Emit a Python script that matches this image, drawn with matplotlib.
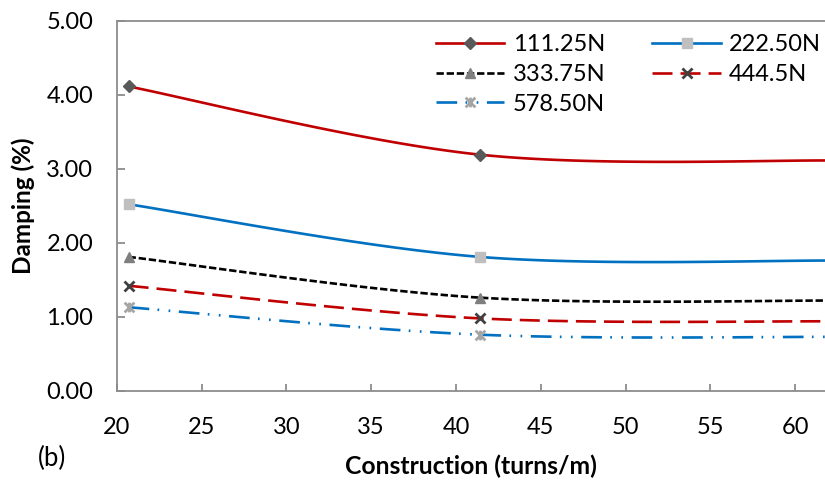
import numpy as np
import matplotlib
matplotlib.use('Agg')
import matplotlib.pyplot as plt
from matplotlib.path import Path
from matplotlib.lines import Line2D

plt.rcParams['font.family'] = ['Lato', 'DejaVu Sans']
plt.rcParams['lines.scale_dashes'] = False

# Data (third point sits just past the visible right edge)
construction = [20.7, 41.4, 62.4]
loads = ['111.25N', '222.50N', '333.75N', '444.5N', '578.50N']
damping_111 = [4.11, 3.19, 3.11]
damping_222 = [2.52, 1.81, 1.76]
damping_333 = [1.81, 1.26, 1.22]
damping_444 = [1.42, 0.98, 0.94]
damping_578 = [1.13, 0.76, 0.73]

# Excel-style "star" marker: an x with a vertical bar through it
star = Path([(-1, -1), (1, 1), (-1, 1), (1, -1), (0, -1), (0, 1)],
            [Path.MOVETO, Path.LINETO, Path.MOVETO, Path.LINETO, Path.MOVETO, Path.LINETO])

styles = [
    dict(color='#C00000', dashes=None, marker='D', ms=6.5, mfc='#595959', mec='#595959', mew=1),
    dict(color='#0070C0', dashes=None, marker='s', ms=6.5, mfc='#BFBFBF', mec='#BFBFBF', mew=1),
    dict(color='black', dashes=(5.3, 2.0), marker='^', ms=7.5, mfc='#7F7F7F', mec='#7F7F7F', mew=1),
    dict(color='#C00000', dashes=(14.4, 5.8), marker='x', ms=6.5, mfc='#404040', mec='#404040', mew=2),
    dict(color='#0070C0', dashes=(14.9, 6.0, 1.2, 6.8, 1.2, 6.2), marker=star, ms=7,
         mfc='#A5A5A5', mec='#A5A5A5', mew=2),
]


def excel_smooth(x, y, n=60):
    """Bezier smoothing the way Excel draws 'smoothed line' series."""
    pts = np.column_stack([x, y]).astype(float)
    out = [pts[:1]]
    for i in range(len(pts) - 1):
        p0 = pts[max(i - 1, 0)]
        p1 = pts[i]
        p2 = pts[i + 1]
        p3 = pts[min(i + 2, len(pts) - 1)]
        c1 = p1 + (p2 - p0) / 6.0
        c2 = p2 - (p3 - p1) / 6.0
        t = np.linspace(0, 1, n)[1:, None]
        seg = ((1 - t) ** 3 * p1 + 3 * (1 - t) ** 2 * t * c1
               + 3 * (1 - t) * t ** 2 * c2 + t ** 3 * p2)
        out.append(seg)
    curve = np.vstack(out)
    return curve[:, 0], curve[:, 1]


fig = plt.figure(figsize=(8.25, 4.83), dpi=100)
ax = fig.add_axes([0.1415, 0.1905, 0.8585, 0.767])

series = [damping_111, damping_222, damping_333, damping_444, damping_578]
handles = []
for vals, label, st in zip(series, loads, styles):
    xs, ys = excel_smooth(construction, vals)
    line, = ax.plot(xs, ys, color=st['color'], lw=1.9, solid_capstyle='butt')
    if st['dashes']:
        line.set_dashes(st['dashes'])
    ax.plot(construction, vals, ls='none', marker=st['marker'], ms=st['ms'],
            mfc=st['mfc'], mec=st['mec'], mew=st['mew'], zorder=3)
    h = Line2D([0], [0], color=st['color'], lw=1.9, marker=st['marker'], ms=st['ms'],
               mfc=st['mfc'], mec=st['mec'], mew=st['mew'])
    if st['dashes']:
        h.set_dashes(st['dashes'])
    handles.append(h)

ax.set_xlim(20, 61.76)
ax.set_ylim(0, 5)
ax.set_xticks(np.arange(20, 61, 5))
ax.set_yticks(np.arange(0, 5.01, 1))
ax.yaxis.set_major_formatter(matplotlib.ticker.FormatStrFormatter('%.2f'))

for side in ['left', 'bottom', 'top']:
    ax.spines[side].set_color('#8C8C8C')
    ax.spines[side].set_linewidth(1.3)
ax.spines['right'].set_visible(False)

ax.tick_params(axis='x', direction='in', length=5, width=1.3, color='#8C8C8C',
               labelsize=17, pad=19)
ax.tick_params(axis='y', direction='in', length=5.8, width=1.3, color='#8C8C8C',
               labelsize=17, pad=17)

ax.set_xlabel('Construction (turns/m)', fontsize=17.8, fontweight='bold', labelpad=12)
ax.set_ylabel('Damping (%)', fontsize=17.5, fontweight='bold', labelpad=8)

fig.text(0.046, 0.05, '(b)', fontsize=18.5, va='center', ha='left')

# legend filled row by row, like the reference
order = [0, 2, 4, 1, 3]
ax.legend([handles[i] for i in order], [loads[i] for i in order], ncol=2,
          frameon=False, fontsize=17, loc='upper right', bbox_to_anchor=(1.018, 1.008),
          handlelength=2.9, handletextpad=0.35, columnspacing=2.0,
          labelspacing=0.37, borderpad=0.2)

fig.savefig('out.png', dpi=100)
